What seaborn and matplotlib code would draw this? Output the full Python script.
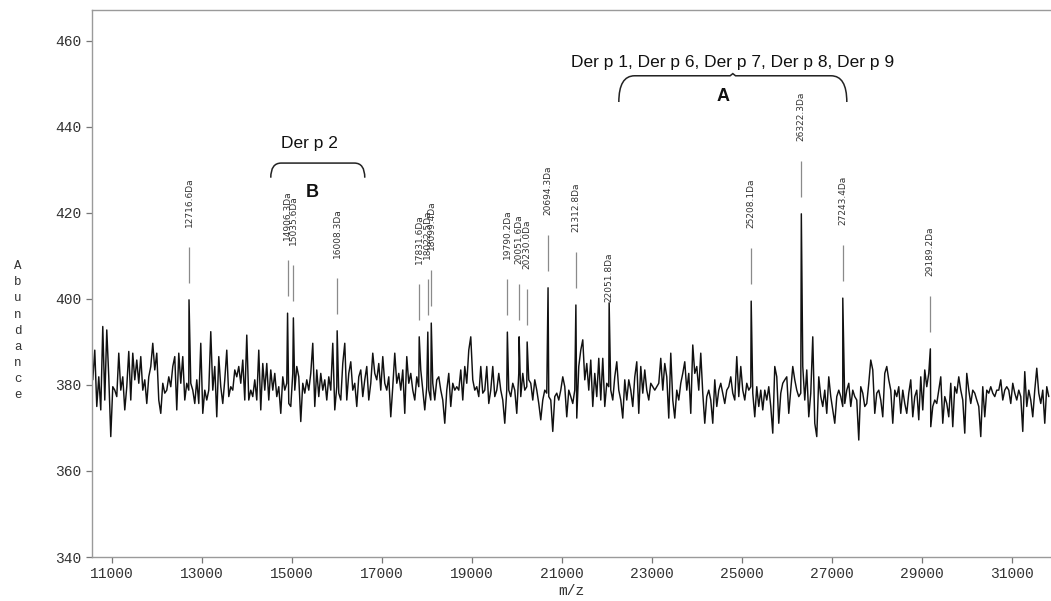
import numpy as np
import matplotlib.pyplot as plt
import seaborn as sns
from matplotlib.path import Path
from matplotlib.patches import PathPatch

sns.set_style("ticks")
plt.rcParams['font.family'] = ['DejaVu Sans']

seg1 = [381.2, 388.1, 375.0, 381.9, 374.2, 393.6, 376.5, 392.8, 381.9, 368.0,
        379.6, 378.8, 377.3, 387.4, 378.8, 381.9, 374.2, 379.6, 387.8, 376.5,
        387.4, 381.2, 385.8, 380.4, 386.6, 378.8, 381.2, 375.7, 381.9, 384.3,
        389.7, 383.5, 387.4, 376.5, 373.4, 380.4, 378.1, 378.8, 381.9, 379.6,
        384.3, 386.6, 374.2, 387.4, 380.4, 386.6, 376.5, 380.4, 378.8, 380.4,
        378.8, 375.7, 381.2, 375.7, 389.7, 373.4, 378.8, 376.5, 378.8, 392.4,
        378.8, 384.3, 372.6, 386.6, 379.6, 375.7, 381.2, 388.1, 377.3, 379.6,
        378.8, 383.5, 381.9, 384.3, 380.4, 385.8, 376.5, 391.6, 376.5]
seg2 = [378.8, 377.3, 381.2, 376.5, 388.1, 374.2, 385.0, 378.8, 385.0, 376.5,
        383.5, 378.8, 382.7, 377.3, 379.6, 373.4, 381.9, 378.8, 380.4, 375.7,
        375.0, 382.7, 378.8, 384.3, 381.9, 371.5, 380.4, 378.1, 381.2, 378.8,
        382.7, 389.7, 375.0, 383.5, 377.3, 382.7, 378.8, 381.2, 376.5, 381.9,
        378.8, 389.7, 374.2, 379.6, 378.1, 376.5, 385.0, 389.7, 376.5, 382.7,
        385.4, 378.8, 380.4, 375.0, 381.9, 383.5, 377.3, 381.2, 384.3, 376.5,
        380.4, 387.4, 382.7, 381.2, 385.0, 378.8, 386.6, 380.4, 378.8, 381.9,
        372.6, 379.6, 387.4, 380.4, 382.7, 378.8, 383.5, 373.4, 386.6, 380.4]
seg3 = [382.7, 378.8, 376.5, 381.9, 379.6, 383.5, 378.8, 374.2, 379.6, 378.8,
        376.5, 380.4, 376.5, 381.2, 381.9, 378.8, 376.5, 371.1, 378.8, 382.7,
        375.0, 380.4, 378.8, 379.6, 378.8, 383.5, 376.5, 384.3, 380.4, 388.1,
        391.2, 381.2, 378.8, 379.6, 377.3, 384.3, 378.1, 378.8, 384.3, 375.7,
        378.8, 384.3, 377.3, 378.8, 382.7, 378.8, 376.5, 371.1, 378.8, 378.8,
        377.3, 380.4, 378.8, 373.4, 382.7, 377.3, 382.7, 378.8, 379.6, 381.2,
        380.4, 376.5, 381.2, 378.8, 375.7, 371.9, 376.5, 378.8, 378.1, 377.3,
        376.5, 369.2, 377.3, 378.1, 376.5, 378.8, 381.9, 379.6, 372.6, 378.8]
seg4 = [377.3, 375.7, 378.8, 372.3, 384.3, 388.1, 390.5, 381.2, 385.0, 378.8,
        385.8, 375.0, 382.7, 377.3, 386.2, 376.5, 386.2, 375.0, 380.4, 379.6,
        378.8, 376.5, 381.9, 385.4, 378.8, 376.5, 372.3, 381.2, 376.5, 381.2,
        378.8, 375.0, 381.9, 385.4, 373.4, 384.3, 378.1, 383.5, 378.8, 376.5,
        380.4, 379.6, 378.8, 379.6, 380.4, 386.2, 378.8, 385.0, 381.9, 372.3,
        387.4, 376.5, 372.3, 378.8, 376.5, 380.4, 382.7, 385.4, 378.8, 382.7,
        373.4, 389.3, 382.7, 384.3, 378.8, 387.4, 378.1, 371.1, 377.3, 378.8,
        376.5, 371.1, 381.2, 375.0, 378.8, 380.4, 378.1, 375.7, 378.8, 379.6]
seg5 = [381.9, 378.1, 376.5, 386.6, 377.3, 384.3, 378.8, 376.5, 380.4, 378.8,
        379.6, 378.1, 372.6, 379.6, 375.0, 378.8, 374.2, 378.8, 376.5, 379.6,
        375.0, 368.8, 384.3, 381.9, 371.1, 378.1, 380.4, 381.2, 381.9, 373.4,
        378.8, 384.3, 381.2, 378.8, 377.3, 378.1, 384.3, 376.5, 383.5, 372.6,
        378.1, 391.2, 371.1, 368.0, 381.9, 377.3, 375.0, 378.8, 373.4, 381.9,
        377.3, 374.2, 371.1, 377.3, 378.8, 377.3, 375.0, 375.7, 378.8, 380.4,
        375.0, 378.8, 377.3, 376.5, 367.2, 379.6, 378.1, 375.0, 375.7, 380.4,
        385.8, 383.5, 373.4, 378.1, 378.8, 376.5, 372.6, 382.7, 384.3, 381.2]
seg6 = [378.8, 371.1, 378.8, 377.3, 379.6, 373.4, 378.8, 375.7, 373.4, 378.1,
        381.2, 372.6, 377.3, 378.8, 371.9, 381.9, 374.2, 383.5, 379.6, 382.7,
        370.3, 375.0, 376.5, 375.7, 378.8, 381.9, 371.1, 377.3, 375.7, 372.6,
        380.4, 370.3, 379.6, 378.1, 381.9, 378.8, 376.5, 368.8, 382.7, 378.8,
        375.7, 378.8, 378.1, 376.5, 375.0, 368.0, 379.6, 372.6, 378.8, 378.1,
        379.6, 378.1, 377.3, 378.8, 378.8, 381.2, 376.5, 378.8, 379.6, 378.8,
        375.7, 380.4, 378.1, 376.5, 378.8, 377.3, 369.2, 383.1, 375.0, 378.8,
        376.5, 372.6, 378.8, 383.9, 378.1, 375.7, 378.8, 371.1, 379.6, 377.3]

mz_first = 10578
mz_step = 44.44

# labelled peaks
peak_mz = [12716.6, 14906.3, 15035.6, 16008.3, 17831.6, 18022.5, 18099.4, 19790.2, 20051.6,
           20230.0, 20694.3, 21312.8, 22051.8, 25208.1, 26322.3, 27243.4, 29189.2]
peak_top = [399.8, 396.7, 395.6, 392.6, 391.2, 392.3, 394.4, 392.3, 391.2,
            390.0, 402.6, 398.6, 399.1, 399.5, 419.8, 400.2, 388.4]
peak_labels = ['12716.6Da', '14906.3Da', '15035.6Da', '16008.3Da', '17831.6Da', '18022.5Da',
               '18099.4Da', '19790.2Da', '20051.6Da', '20230.0Da', '20694.3Da', '21312.8Da',
               '22051.8Da', '25208.1Da', '26322.3Da', '27243.4Da', '29189.2Da']

xticks = [11000, 13000, 15000, 17000, 19000, 21000, 23000, 25000, 27000, 29000, 31000]
yticks = [340, 360, 380, 400, 420, 440, 460]

noise = np.array(seg1 + seg2 + seg3 + seg4 + seg5 + seg6)
noise_mz = mz_first + mz_step * np.arange(len(noise))
mz_all = np.concatenate([noise_mz, peak_mz])
ab_all = np.concatenate([noise, peak_top])

fig = plt.figure(figsize=(10.51, 6.01), dpi=100)
ax = fig.add_axes([0.0875, 0.0732, 0.9125, 0.9102])

sns.lineplot(x=mz_all, y=ab_all, ax=ax, color='#111111', linewidth=1.05,
             estimator=None, sort=True)

# label ticks + rotated labels
top = np.array(peak_top)
for m, t, lab in zip(peak_mz, top, peak_labels):
    if lab == '22051.8Da':
        ax.text(m, t + 0.3, lab, rotation=90, ha='center', va='bottom', fontsize=6.5, color='#333333')
        continue
    ax.vlines(m, t + 4, t + 12.3, color='#8a8a8a', linewidth=0.9)
    ax.text(m, t + 17.0, lab, rotation=90, ha='center', va='bottom', fontsize=6.5, color='#333333')


def brace(x0, x1, y_top, y_end, r, nub=None):
    verts = [(x0, y_end), (x0, y_top), (x0 + r, y_top)]
    codes = [Path.MOVETO, Path.CURVE3, Path.CURVE3]
    if nub is not None:
        verts += [(nub - 60, y_top), (nub, y_top + 0.5), (nub + 60, y_top)]
        codes += [Path.LINETO, Path.LINETO, Path.LINETO]
    verts += [(x1 - r, y_top), (x1, y_top), (x1, y_end)]
    codes += [Path.LINETO, Path.CURVE3, Path.CURVE3]
    ax.add_patch(PathPatch(Path(verts, codes), fill=False, color='#222222', linewidth=1.1))


brace(14533, 16622, 431.6, 428.2, 230)
ax.text(15400, 434.5, 'Der p 2', ha='center', va='bottom', fontsize=12.5,
        family=['Liberation Sans', 'DejaVu Sans'], color='#111111')
ax.text(15444, 424.7, 'B', ha='center', va='center', fontsize=13, fontweight='bold',
        family=['Liberation Sans', 'DejaVu Sans'], color='#111111')

brace(22267, 27333, 451.9, 445.8, 350, nub=24800)
ax.text(24800, 455.1, 'Der p 1, Der p 6, Der p 7, Der p 8, Der p 9', ha='center', va='center',
        fontsize=12.5, family=['Liberation Sans', 'DejaVu Sans'], color='#111111')
ax.text(24578, 447.0, 'A', ha='center', va='center', fontsize=13, fontweight='bold',
        family=['Liberation Sans', 'DejaVu Sans'], color='#111111')

ax.set_xlim(10560, 31870)
ax.set_ylim(340, 467.2)
ax.set_xticks(xticks)
ax.set_yticks(yticks)
mono = ['Liberation Mono', 'DejaVu Sans Mono']
ax.set_xticklabels([str(v) for v in xticks], family=mono, fontsize=10.5, color='#333333')
ax.set_yticklabels([str(v) for v in yticks], family=mono, fontsize=10.5, color='#333333')
ax.tick_params(axis='both', colors='#777777', length=4, width=0.9, labelcolor='#333333')
ax.set_xlabel('m/z', family=mono, fontsize=10.5, color='#333333', labelpad=2)
ax.set_ylabel('')
fig.text(0.0171, 0.45, 'A\nb\nu\nn\nd\na\nn\nc\ne', family=mono, fontsize=9,
         color='#333333', ha='center', va='center', linespacing=1.45)

for side in ['left', 'bottom', 'top']:
    ax.spines[side].set_color('#9a9a9a')
    ax.spines[side].set_linewidth(1.0)
ax.spines['right'].set_visible(False)

fig.savefig('out.png', dpi=100)
